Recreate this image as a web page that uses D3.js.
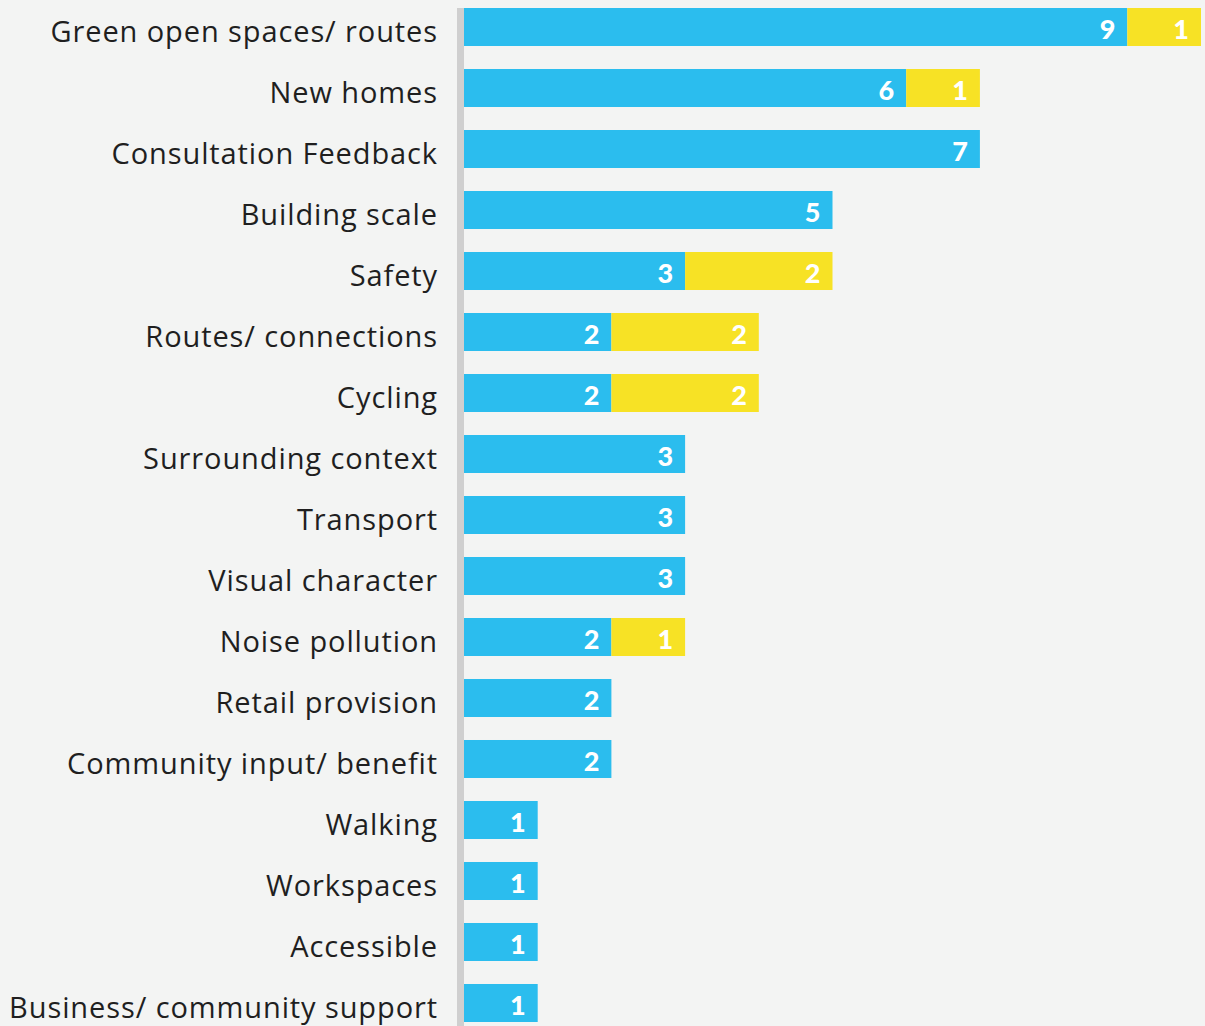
<!DOCTYPE html>
<html><head><meta charset="utf-8">
<script src="https://cdn.jsdelivr.net/npm/d3@7"></script>
<style>
html,body{margin:0;padding:0;background:#f3f4f3;}
svg{display:block;}
</style></head>
<body>
<svg id="c" width="1205" height="1026"></svg>
<script>
const categories = ["Green open spaces/ routes","New homes","Consultation Feedback","Building scale","Safety","Routes/ connections","Cycling","Surrounding context","Transport","Visual character","Noise pollution","Retail provision","Community input/ benefit","Walking","Workspaces","Accessible","Business/ community support"];
const blueValues   = [9,6,7,5,3,2,2,3,3,3,2,2,2,1,1,1,1];
const yellowValues = [1,1,0,0,2,2,2,0,0,0,1,0,0,0,0,0,0];

const svg = d3.select("#c");
const W = 1205, H = 1026;
const x = d3.scaleLinear().domain([0,10]).range([464,1201]);
const y = d3.scaleBand().domain(categories).range([8,1022]).paddingInner(0.377).paddingOuter(0);

const BLUE = "#2bbdee", YELLOW = "#f7e225";

svg.append("rect").attr("x",457).attr("y",8).attr("width",7).attr("height",H-8).attr("fill","#cfcfcf");

const rows = categories.map((c,i)=>({c, b:blueValues[i], yv:yellowValues[i]}));
const g = svg.append("g");

function valueLabel(xEnd, cy, v){
  g.append("text").attr("x",xEnd-12).attr("y",cy+12).attr("text-anchor","end")
    .attr("font-family","Lato, 'Open Sans', sans-serif").attr("font-weight","900").attr("font-size",27)
    .attr("fill","#fff").text(v);
}

rows.forEach(r=>{
  const yy = y(r.c), bh = y.bandwidth(), cy = yy + bh/2;
  g.append("rect").attr("x",x(0)).attr("y",yy).attr("width",x(r.b)-x(0)).attr("height",bh).attr("fill",BLUE);
  valueLabel(x(r.b), cy, r.b);
  if (r.yv>0){
    g.append("rect").attr("x",x(r.b)).attr("y",yy).attr("width",x(r.b+r.yv)-x(r.b)).attr("height",bh).attr("fill",YELLOW);
    valueLabel(x(r.b+r.yv), cy, r.yv);
  }
  g.append("text").attr("x",438).attr("y",cy+15).attr("text-anchor","end")
    .attr("font-family","'Open Sans', sans-serif").attr("font-size",29).attr("letter-spacing","0.9px").attr("fill","#1f1f1f")
    .text(r.c);
});
</script>
</body></html>
